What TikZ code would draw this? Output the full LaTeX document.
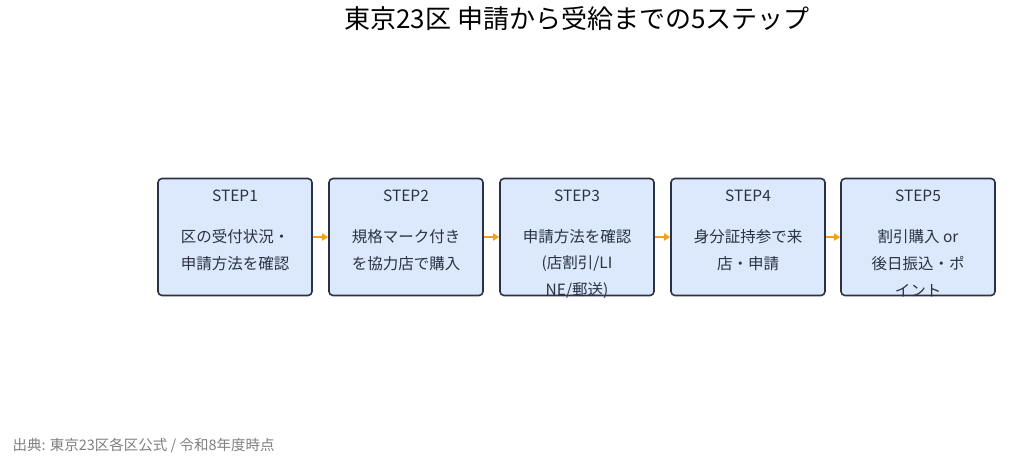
\documentclass[tikz,border=0pt]{standalone}
\usepackage{fontspec}
\setmainfont{Noto Sans CJK JP}
\usetikzlibrary{arrows.meta}
\definecolor{boxfill}{HTML}{DCE8FB}
\definecolor{boxline}{HTML}{2B3245}
\definecolor{arr}{HTML}{F5A01A}
\definecolor{txt}{HTML}{2B3245}
\begin{document}
\begin{tikzpicture}[x=1pt,y=-1pt,
  box/.style={draw=boxline,line width=1.6pt,fill=boxfill,rounded corners=4pt,minimum width=154pt,minimum height=117pt,inner sep=0pt},
  lab/.style={font=\fontsize{15.5}{18}\selectfont,text=txt,inner sep=0pt,anchor=center},
  con/.style={draw=arr,line width=2.4pt,-{Triangle[length=6pt,width=7pt]}}]
\useasboundingbox[fill=white] (0,0) rectangle (1024,465);
\node[font=\fontsize{26}{30}\selectfont,text=black] (title) at (577,19) {東京23区 申請から受給までの5ステップ};
\foreach \i/\x/\a/\b/\c in {1/235/{区の受付状況・}/{申請方法を確認}/{},2/406/{規格マーク付き}/{を協力店で購入}/{},3/577/{申請方法を確認}/{(店割引/LI}/{NE/郵送)},4/748/{身分証持参で来}/{店・申請}/{},5/918/{割引購入 or}/{後日振込・ポ}/{イント}}{
  \node[box] (b\i) at (\x,237) {};
  \node[lab] (s\i) at (\x,196) {STEP\i};
  \node[lab] (l\i a) at (\x,237) {\a};
  \node[lab] (l\i b) at (\x,264) {\b};
  \node[lab] (l\i c) at (\x,291) {\c};
}
\foreach \i/\j in {1/2,2/3,3/4,4/5}{\draw[con] (b\i.east) -- (b\j.west);}
\node[font=\fontsize{14.5}{17}\selectfont,text=gray,anchor=west] (src) at (9,446) {出典: 東京23区各区公式 / 令和8年度時点};
\end{tikzpicture}
\end{document}
